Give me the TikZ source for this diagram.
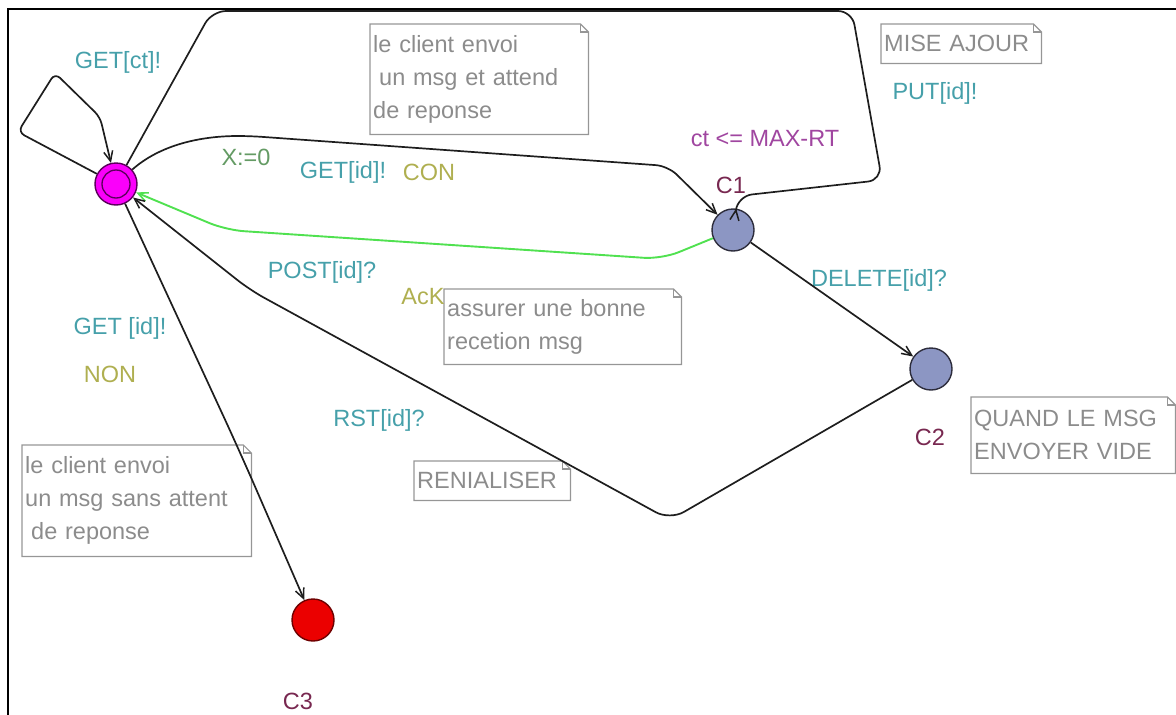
\documentclass[tikz,border=0pt]{standalone}
\usepackage{fontspec}
\setmainfont{Liberation Sans}
\usetikzlibrary{arrows.meta}

\definecolor{syncc}{RGB}{70,160,170}
\definecolor{guardc}{RGB}{160,70,160}
\definecolor{assignc}{RGB}{100,155,100}
\definecolor{commc}{RGB}{175,175,80}
\definecolor{namec}{RGB}{120,40,80}
\definecolor{notetext}{RGB}{140,140,140}
\definecolor{noteline}{RGB}{150,150,150}
\definecolor{locfill}{RGB}{140,150,195}
\definecolor{locline}{RGB}{45,45,60}
\definecolor{initfill}{RGB}{250,0,250}
\definecolor{initline}{RGB}{90,0,90}
\definecolor{errfill}{RGB}{235,0,0}
\definecolor{errline}{RGB}{110,0,0}
\definecolor{edgec}{RGB}{30,30,30}
\definecolor{ackgreen}{RGB}{80,225,80}

\tikzset{
  every node/.style={font=\fontsize{23.5}{33}\selectfont, inner sep=0pt},
  loc/.style={circle, draw=locline, line width=1.4pt, fill=locfill, minimum size=42pt},
  initloc/.style={loc, fill=initfill, draw=initline,
    path picture={\draw[initline, line width=1.3pt] (path picture bounding box.center) circle (14pt);}},
  errloc/.style={loc, fill=errfill, draw=errline},
  locname/.style={text=namec},
  sync/.style={text=syncc},
  guard/.style={text=guardc},
  assign/.style={text=assignc},
  comm/.style={text=commc},
  note/.style={anchor=north west, text=notetext, align=left, inner xsep=3pt},
  notebox/.style={draw=noteline, line width=1.2pt},
  edge/.style={draw=edgec, line width=1.7pt,
    -{Straight Barb[length=10pt,width=9pt,line width=1.5pt]}},
  greenedge/.style={draw=ackgreen, line width=1.9pt,
    -{Straight Barb[length=10pt,width=9pt,line width=1.6pt]}},
}

\begin{document}
\begin{tikzpicture}[x=1pt,y=-1pt]
\useasboundingbox (0,0) rectangle (1176,715);

% outer frame (top and left edges)
\draw[line width=2.8pt, black] (8,715) -- (8,9) -- (1176,9);

% locations
\node[initloc] (init) at (116,184) {};
\node[loc] (C1) at (733,230) {};
\node[loc] (C2) at (931,369) {};
\node[errloc] (C3) at (313,620) {};

\node[locname] (nC1) at (731,185) {C1};
\node[locname] (nC2) at (930,437) {C2};
\node[locname] (nC3) at (298,701) {C3};

% comment notes
\node[note, minimum width=218pt, minimum height=110pt, text width=212pt] (noteA) at (370,24)
  {le client envoi\\\hspace*{6pt}un msg et attend\\de reponse};
\node[note, minimum width=160pt, minimum height=39pt, text width=154pt] (noteB) at (881,24)
  {MISE AJOUR};
\node[note, minimum width=237pt, minimum height=75pt, text width=231pt] (noteC) at (444,289)
  {assurer une bonne\\recetion msg};
\node[note, minimum width=156pt, minimum height=39pt, text width=150pt] (noteD) at (414,461)
  {RENIALISER};
\node[note, minimum width=204pt, minimum height=76pt, text width=198pt] (noteE) at (971,397)
  {QUAND LE MSG\\ENVOYER VIDE};
\node[note, minimum width=229pt, minimum height=111pt, text width=223pt] (noteF) at (22,445)
  {le client envoi\\un msg sans attent\\\hspace*{6pt}de reponse};

\foreach \n in {noteA,noteB,noteC,noteD,noteE,noteF} {
  \draw[notebox] (\n.south west) -- (\n.south east) -- ([yshift=-8pt]\n.north east)
    -- ([xshift=-8pt]\n.north east) -- (\n.north west) -- cycle;
  \draw[notebox] ([xshift=-8pt]\n.north east) |- ([yshift=-8pt]\n.north east);
}

% transition labels
\node[sync] (lGetCt) at (118,62) {GET[ct]!};
\node[assign] (lX) at (246,157) {X:=0};
\node[sync] (lGetId) at (343,172) {GET[id]!};
\node[comm] (lCon) at (429,172) {CON};
\node[guard] (lGuard) at (765,139) {ct <= MAX-RT};
\node[sync] (lPut) at (935,93) {PUT[id]!};
\node[sync] (lPost) at (322,272) {POST[id]?};
\node[comm] (lAck) at (423,297) {AcK};
\node[sync] (lDel) at (879,280) {DELETE[id]?};
\node[sync] (lGetId2) at (120,328) {GET [id]!};
\node[comm] (lNon) at (110,374) {NON};
\node[sync] (lRst) at (379,420) {RST[id]?};

% transitions
\draw[edge, rounded corners=7pt] (init) -- (18,132) -- (55,73) -- (100,117) -- (init);
\draw[edge, rounded corners=14pt] (init) -- (212,11) -- (852,11) -- (882,180)
  -- (738,196) [sharp corners] -- (C1);
\draw[edge, rounded corners=12pt] (init) .. controls (160,145) and (200,136) .. (250,136)
  -- (668,166) -- (C1);
\draw[greenedge, rounded corners=18pt] (C1) -- (662,259) -- (226,230) -- (init);
\draw[edge] (C1) -- (C2);
\draw[edge, rounded corners=16pt] (C2) -- (670,520) -- (250,290) -- (init);
\draw[edge, rounded corners=40pt] (init) -- (240,452) -- (C3);
\end{tikzpicture}
\end{document}
